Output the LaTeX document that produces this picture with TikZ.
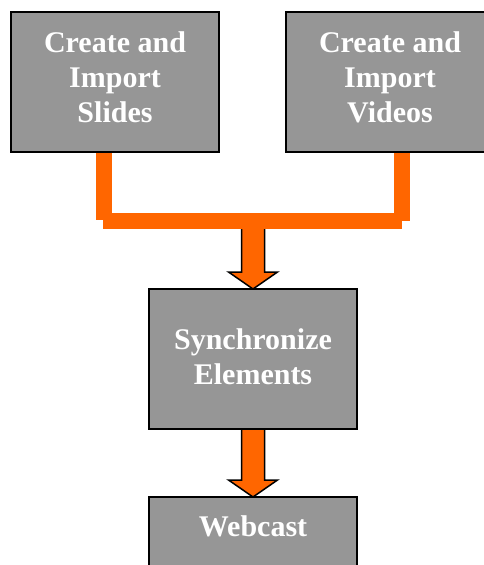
\documentclass[tikz,border=0pt]{standalone}
\usepackage{fontspec}
\setmainfont{Liberation Serif}
\usetikzlibrary{calc}
\definecolor{boxgray}{RGB}{150,150,150}
\definecolor{flow}{RGB}{255,102,0}
\newcommand\flowarrow[2]{%
  \draw[blockarrow] ($(#1)+(-11.5,0)$) -- ($(#2)+(-11.5,-17)$) -- ($(#2)+(-24.5,-17)$)
    -- (#2) -- ($(#2)+(24.5,-17)$) -- ($(#2)+(11.5,-17)$) -- ($(#1)+(11.5,0)$) -- cycle;}
\begin{document}
\begin{tikzpicture}[x=1pt,y=-1pt,
  boxfont/.style={text=white, font=\fontsize{30}{35}\selectfont\bfseries},
  stepbox/.style={draw=black, line width=2pt, fill=boxgray, minimum width=208pt,
    minimum height=140pt, inner sep=0pt, align=center, boxfont},
  feed/.style={draw=flow, line width=16pt, line cap=butt},
  blockarrow/.style={fill=flow, draw=black, line width=1.5pt, line join=miter}]
\useasboundingbox (0,0) rectangle (484,565);
\clip (0,0) rectangle (484,565);
\fill[white] (0,0) rectangle (484,565);

% box positions
\coordinate (cSlides) at (115,82);
\coordinate (cVideos) at (390,82);
\coordinate (cSync) at (253,359);
\coordinate (cWeb) at (253,567);

% block arrows go underneath the boxes
\path (cSync) ++(0,-70) coordinate (syncTop);
\path (cSync) ++(0,70) coordinate (syncBot);
\path (cWeb) ++(0,-70) coordinate (webTop);
\coordinate (merge) at (253,220);
\flowarrow{merge}{syncTop}
\flowarrow{syncBot}{webTop}

\node[stepbox, text depth=10pt] (slides) at (cSlides) {Create and\\Import\\Slides};
\node[stepbox, text depth=10pt] (videos) at (cVideos) {Create and\\Import\\Videos};
\node[stepbox, text depth=4pt] (sync) at (cSync) {Synchronize\\Elements};
\node[stepbox] (webcast) at (cWeb) {};
\node[boxfont, anchor=base, inner sep=0pt] (webcastText) at ($(webcast.north)+(0,40)$) {Webcast};

% orange feed lines joining the two inputs
\coordinate (dropL) at ($(slides.south)+(-11,67)$);
\coordinate (dropR) at ($(videos.south)+(12,68)$);
\draw[feed] (slides.south -| dropL) -- (dropL);
\draw[feed] (videos.south -| dropR) -- (dropR);
\draw[feed] ($(dropL)+(-1,1)$) -- (dropR);
\end{tikzpicture}
\end{document}
